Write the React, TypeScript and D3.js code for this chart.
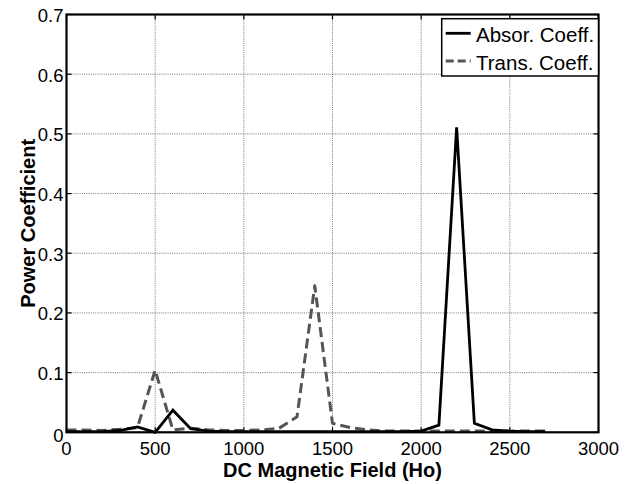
import React from "react";
import * as d3 from "d3";

const fieldValues = [0, 100, 200, 300, 400, 500, 600, 700, 800, 900, 1000, 1100, 1200, 1300, 1400, 1500, 1600, 1700, 1800, 1900, 2000, 2100, 2200, 2300, 2400, 2500, 2600, 2700];
const absorption = [0.001, 0.001, 0.001, 0.003, 0.009, 0.0, 0.037, 0.006, 0.002, 0.001, 0.001, 0.001, 0.001, 0.001, 0.001, 0.001, 0.001, 0.001, 0.001, 0.001, 0.002, 0.012, 0.511, 0.015, 0.004, 0.002, 0.001, 0.001];
const transmission = [0.004, 0.004, 0.003, 0.005, 0.008, 0.104, 0.004, 0.007, 0.004, 0.003, 0.003, 0.004, 0.007, 0.026, 0.2455, 0.015, 0.008, 0.004, 0.002, 0.002, 0.002, 0.002, 0.002, 0.002, 0.002, 0.002, 0.002, 0.002];
const xTicks = [0, 500, 1000, 1500, 2000, 2500, 3000];
const yTicks = [0, 0.1, 0.2, 0.3, 0.4, 0.5, 0.6, 0.7];
const xTickLabels = ["0", "500", "1000", "1500", "2000", "2500", "3000"];
const yTickLabels = ["0", "0.1", "0.2", "0.3", "0.4", "0.5", "0.6", "0.7"];
const seriesNames = ["Absor. Coeff.", "Trans. Coeff."];
const xLabel = "DC Magnetic Field (Ho)";
const yLabel = "Power Coefficient";

const W = 631, H = 484;
const L = 66.5, R = 598.5, T = 14.5, B = 432.3;
const FONT = "'Liberation Sans', Arial, Helvetica, sans-serif";

export default function App() {
  const x = d3.scaleLinear().domain([0, 3000]).range([L, R]);
  const y = d3.scaleLinear().domain([0, 0.7]).range([B, T]);
  const line = d3.line<number>().x((_, i) => x(fieldValues[i])).y((d) => y(d));
  const tickLen = 5;
  return (
    <svg width={W} height={H} style={{ position: "absolute", left: 0, top: 0 }}>
      <rect x={0} y={0} width={W} height={H} fill="#fff" />
      {/* grid */}
      {xTicks.filter((t) => t > 0 && t < 3000).map((t) => (
        <line key={"gx" + t} x1={x(t)} x2={x(t)} y1={T} y2={B} stroke="#777" strokeWidth={1} strokeDasharray="1,1.2" />
      ))}
      {yTicks.filter((t) => t > 0 && t < 0.7).map((t) => (
        <line key={"gy" + t} x1={L} x2={R} y1={y(t)} y2={y(t)} stroke="#777" strokeWidth={1} strokeDasharray="1,1.2" />
      ))}
      {/* ticks */}
      {xTicks.map((t) => (
        <g key={"tx" + t}>
          <line x1={x(t)} x2={x(t)} y1={B} y2={B - tickLen} stroke="#000" strokeWidth={1.2} />
          <line x1={x(t)} x2={x(t)} y1={T} y2={T + tickLen} stroke="#000" strokeWidth={1.2} />
        </g>
      ))}
      {yTicks.map((t) => (
        <g key={"ty" + t}>
          <line x1={L} x2={L + tickLen} y1={y(t)} y2={y(t)} stroke="#000" strokeWidth={1.2} />
          <line x1={R} x2={R - tickLen} y1={y(t)} y2={y(t)} stroke="#000" strokeWidth={1.2} />
        </g>
      ))}
      {/* data */}
      <path d={line(transmission) || ""} fill="none" stroke="#555" strokeWidth={3} strokeDasharray="10,5" strokeLinejoin="round" />
      <path d={line(absorption) || ""} fill="none" stroke="#000" strokeWidth={2.8} strokeLinejoin="miter" />
      {/* axes box */}
      <rect x={L} y={T} width={R - L} height={B - T} fill="none" stroke="#000" strokeWidth={2.2} />
      {/* tick labels */}
      {xTicks.map((t, i) => (
        <text key={"lx" + t} x={x(t)} y={455} textAnchor="middle" fontFamily={FONT} fontSize={18.5} fill="#000">{xTickLabels[i]}</text>
      ))}
      {yTicks.map((t, i) => (
        <text key={"ly" + t} x={63.5} y={y(t) + (t === 0 ? 3 : 1)} dy="0.35em" textAnchor="end" fontFamily={FONT} fontSize={18.5} fill="#000">{yTickLabels[i]}</text>
      ))}
      {/* axis labels */}
      <text x={(L + R) / 2} y={477} textAnchor="middle" fontFamily={FONT} fontWeight="bold" fontSize={20} fill="#000">{xLabel}</text>
      <text transform={`translate(35,${(T + B) / 2}) rotate(-90)`} textAnchor="middle" fontFamily={FONT} fontWeight="bold" fontSize={20} fill="#000">{yLabel}</text>
      {/* legend */}
      <g>
        <rect x={441.7} y={18.7} width={R - 441.7} height={57.3} fill="#fff" stroke="#000" strokeWidth={1.5} />
        <line x1={445.7} x2={470.7} y1={33.3} y2={33.3} stroke="#000" strokeWidth={2.8} />
        <line x1={445.7} x2={470.7} y1={61} y2={61} stroke="#555" strokeWidth={3} strokeDasharray="8,4" />
        <text x={476} y={41.5} fontFamily={FONT} fontSize={20.5} fill="#000">{seriesNames[0]}</text>
        <text x={476} y={69.5} fontFamily={FONT} fontSize={20.5} fill="#000">{seriesNames[1]}</text>
      </g>
    </svg>
  );
}
